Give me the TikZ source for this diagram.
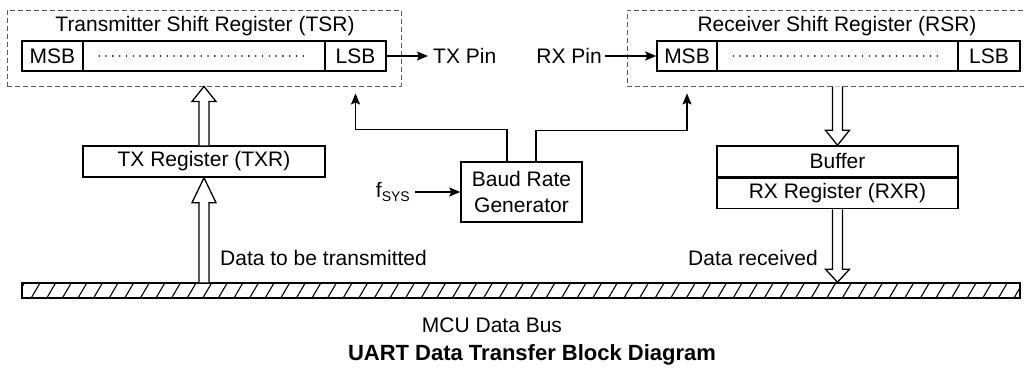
\documentclass[tikz,border=0pt]{standalone}
\usepackage{fontspec}
\setmainfont{Liberation Sans}
\usetikzlibrary{calc,arrows.meta}

\tikzset{
  cell/.style={draw, line width=1.5pt, minimum height=30pt, inner sep=0pt},
  group/.style={draw, dashed, line width=0.9pt, dash pattern=on 5pt off 3pt, gray!70!black},
  lbl/.style={inner sep=0pt},
  wire/.style={line width=1.3pt, -{Stealth[length=11pt, width=9pt, inset=2pt]}},
  fatarrow/.style={line width=1.3pt, fill=white},
  bitdots/.style={line width=1.8pt, line cap=round, dash pattern=on 0pt off 6.8pt},
}

% hollow block arrow from #2 to #3, head length #1
\newcommand{\fatarrow}[3][15pt]{%
  \draw[fatarrow] let \p1=(#2), \p2=(#3), \n1={ifthenelse(\y2>\y1,1,-1)} in
    (\x1-5pt,\y1) -- (\x1-5pt,\y2-\n1*#1) -- (\x1-12pt,\y2-\n1*#1) -- (\x1,\y2)
    -- (\x1+12pt,\y2-\n1*#1) -- (\x1+5pt,\y2-\n1*#1) -- (\x1+5pt,\y1);
}

\begin{document}
\begin{tikzpicture}[x=1pt, y=-1pt, font=\fontsize{21}{25}\selectfont]
  \useasboundingbox (0,0) rectangle (1025,372);

  % transmitter side
  \node[group, minimum width=394pt, minimum height=76pt] (tsrbox) at (204,48) {};
  \node[lbl] (tsrname) at (205,26) {Transmitter Shift Register (TSR)};
  \node[cell, minimum width=61pt] (tmsb) at (52.5,56) {MSB};
  \node[cell, minimum width=242pt] (tdots) at (204,56) {};
  \node[cell, minimum width=61pt] (tlsb) at (355.5,56) {LSB};
  \draw[bitdots] ($(tdots.west)+(17,0)$) -- ($(tdots.east)+(-17,0)$);
  \node[lbl, anchor=west, inner xsep=5pt] (txpin) at (428,56) {TX Pin};
  \draw[wire] (tlsb.east) -- (txpin.west);

  \node[cell, minimum width=242pt, minimum height=31pt] (txr) at (204,161.5) {TX Register (TXR)};

  % baud rate generator
  \node[cell, minimum width=121pt, minimum height=60pt, align=center,
        font=\fontsize{21}{26}\selectfont] (baud) at (521.5,192) {Baud Rate\\Generator};
  \node[lbl, anchor=east, inner xsep=5pt] (fsys) at (415,192)
    {f{\fontsize{14}{14}\selectfont\raisebox{-4pt}{SYS}}};
  \draw[wire] (fsys.east) -- (baud.west);

  % receiver side
  \node[group, minimum width=404pt, minimum height=76pt] (rsrbox) at (829,48) {};
  \node[lbl] (rsrname) at (837,26) {Receiver Shift Register (RSR)};
  \node[cell, minimum width=60pt] (rmsb) at (687,56) {MSB};
  \node[cell, minimum width=241pt] (rdots) at (837.5,56) {};
  \node[cell, minimum width=62pt] (rlsb) at (989,56) {LSB};
  \draw[bitdots] ($(rdots.west)+(17,0)$) -- ($(rdots.east)+(-17,0)$);
  \node[lbl, anchor=east, inner xsep=3pt] (rxpin) at (605,56) {RX Pin};
  \draw[wire] (rxpin.east) -- (rmsb.west);

  \node[cell, minimum width=241pt, minimum height=31pt] (buf) at (837.5,161.5) {Buffer};
  \node[cell, minimum width=241pt, minimum height=30pt, anchor=north] (rxr) at (buf.south) {RX Register (RXR)};

  % data bus
  \node[draw, line width=1.5pt, minimum width=998pt, minimum height=15pt, inner sep=0pt] (bus) at (521,290.5) {};
  \begin{scope}
    \clip (bus.south west) rectangle (bus.north east);
    \foreach \i in {0,...,65}
      \draw[line width=1.1pt] (15+15.6*\i,299) -- (25+15.6*\i,282);
  \end{scope}
  \node[lbl, anchor=west] (txdata) at (220,258) {Data to be transmitted};
  \node[lbl, anchor=east] (rxdata) at (818,258) {Data received};
  \node[lbl] (busname) at (492,325) {MCU Data Bus};
  \node[lbl, font=\fontsize{22}{26}\selectfont\bfseries] (caption) at (532,355) {UART Data Transfer Block Diagram};

  % baud clock to both shift registers
  \coordinate (ttip) at ($(tlsb.south |- tsrbox.south)+(0,7)$);
  \coordinate (rtip) at ($(rmsb.south |- rsrbox.south)+(0,7)$);
  \draw[wire] ([xshift=-14.5pt]baud.north) -- ++(0,-32) -| (ttip);
  \draw[wire] ([xshift=14.5pt]baud.north) -- ++(0,-31) -| (rtip);

  % parallel data paths
  \fatarrow{txr.north}{txr.north |- tsrbox.south}
  \fatarrow[25pt]{bus.north -| txr.south}{txr.south}
  \fatarrow{rdots.south |- rsrbox.south}{buf.north}
  \fatarrow[13pt]{rxr.south}{rxr.south |- bus.north}
\end{tikzpicture}
\end{document}
